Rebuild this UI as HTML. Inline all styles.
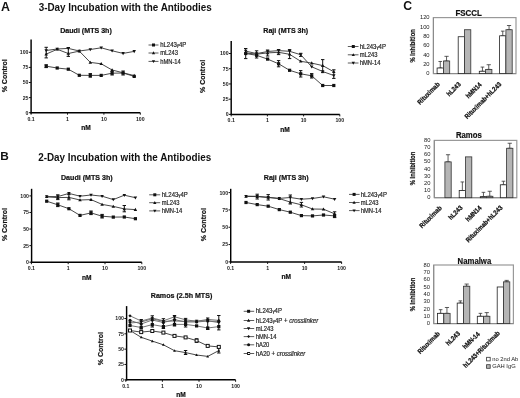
<!DOCTYPE html>
<html><head><meta charset="utf-8"><style>
html,body{margin:0;padding:0;background:#fff;}
body{width:520px;height:398px;overflow:hidden;font-family:"Liberation Sans",sans-serif;}
svg{display:block;filter:blur(0.3px);}
</style></head><body>
<svg width="520" height="398" viewBox="0 0 520 398" font-family='"Liberation Sans", sans-serif'>
<rect width="520" height="398" fill="#fff"/>
<text x="0.90" y="10.60" font-size="12.4" text-anchor="start" font-weight="bold" fill="#111">A</text>
<text x="38.70" y="11.30" font-size="10.2" text-anchor="start" font-weight="bold" fill="#111" textLength="173" lengthAdjust="spacingAndGlyphs">3-Day Incubation with the Antibodies</text>
<text x="0.20" y="159.70" font-size="11.8" text-anchor="start" font-weight="bold" fill="#111">B</text>
<text x="38.20" y="161.00" font-size="10.2" text-anchor="start" font-weight="bold" fill="#111" textLength="173" lengthAdjust="spacingAndGlyphs">2-Day Incubation with the Antibodies</text>
<text x="403.30" y="9.80" font-size="12.2" text-anchor="start" font-weight="bold" fill="#111">C</text>
<line x1="31.10" y1="39.40" x2="31.10" y2="113.40" stroke="#000" stroke-width="1.45"/>
<line x1="30.40" y1="112.70" x2="140.30" y2="112.70" stroke="#000" stroke-width="1.45"/>
<line x1="28.90" y1="112.70" x2="31.10" y2="112.70" stroke="#111" stroke-width="1.0"/>
<text x="28.50" y="114.60" font-size="5.2" text-anchor="end" font-weight="bold" fill="#222">0</text>
<line x1="28.90" y1="97.60" x2="31.10" y2="97.60" stroke="#111" stroke-width="1.0"/>
<text x="28.50" y="99.50" font-size="5.2" text-anchor="end" font-weight="bold" fill="#222">25</text>
<line x1="28.90" y1="82.50" x2="31.10" y2="82.50" stroke="#111" stroke-width="1.0"/>
<text x="28.50" y="84.40" font-size="5.2" text-anchor="end" font-weight="bold" fill="#222">50</text>
<line x1="28.90" y1="67.40" x2="31.10" y2="67.40" stroke="#111" stroke-width="1.0"/>
<text x="28.50" y="69.30" font-size="5.2" text-anchor="end" font-weight="bold" fill="#222">75</text>
<line x1="28.90" y1="52.30" x2="31.10" y2="52.30" stroke="#111" stroke-width="1.0"/>
<text x="28.50" y="54.20" font-size="5.2" text-anchor="end" font-weight="bold" fill="#222">100</text>
<line x1="31.10" y1="112.70" x2="31.10" y2="114.70" stroke="#111" stroke-width="1.0"/>
<text x="31.10" y="120.50" font-size="5.2" text-anchor="middle" font-weight="bold" fill="#222">0.1</text>
<line x1="67.50" y1="112.70" x2="67.50" y2="114.70" stroke="#111" stroke-width="1.0"/>
<text x="67.50" y="120.50" font-size="5.2" text-anchor="middle" font-weight="bold" fill="#222">1</text>
<line x1="103.90" y1="112.70" x2="103.90" y2="114.70" stroke="#111" stroke-width="1.0"/>
<text x="103.90" y="120.50" font-size="5.2" text-anchor="middle" font-weight="bold" fill="#222">10</text>
<line x1="140.30" y1="112.70" x2="140.30" y2="114.70" stroke="#111" stroke-width="1.0"/>
<text x="140.30" y="120.50" font-size="5.2" text-anchor="middle" font-weight="bold" fill="#222">100</text>
<text x="60.20" y="32.90" font-size="7.1" text-anchor="start" font-weight="bold" fill="#111" stroke="#111" stroke-width="0.2">Daudi (MTS 3h)</text>
<text x="86.00" y="130.00" font-size="6.6" text-anchor="middle" font-weight="bold" fill="#111" stroke="#111" stroke-width="0.2">nM</text>
<text x="6.60" y="75.80" font-size="7.0" text-anchor="middle" font-weight="bold" transform="rotate(-90 6.60 75.80)" fill="#111" stroke="#111" stroke-width="0.2">% Control</text>
<line x1="46.20" y1="47.30" x2="46.20" y2="57.90" stroke="#111" stroke-width="1.0"/>
<line x1="44.50" y1="47.30" x2="47.90" y2="47.30" stroke="#111" stroke-width="1.0"/>
<line x1="44.50" y1="57.90" x2="47.90" y2="57.90" stroke="#111" stroke-width="1.0"/>
<line x1="68.30" y1="47.60" x2="68.30" y2="56.40" stroke="#111" stroke-width="1.0"/>
<line x1="66.60" y1="47.60" x2="70.00" y2="47.60" stroke="#111" stroke-width="1.0"/>
<line x1="66.60" y1="56.40" x2="70.00" y2="56.40" stroke="#111" stroke-width="1.0"/>
<line x1="46.20" y1="64.80" x2="46.20" y2="67.60" stroke="#111" stroke-width="1.0"/>
<line x1="44.50" y1="64.80" x2="47.90" y2="64.80" stroke="#111" stroke-width="1.0"/>
<line x1="44.50" y1="67.60" x2="47.90" y2="67.60" stroke="#111" stroke-width="1.0"/>
<line x1="90.30" y1="73.60" x2="90.30" y2="77.20" stroke="#111" stroke-width="1.0"/>
<line x1="88.60" y1="73.60" x2="92.00" y2="73.60" stroke="#111" stroke-width="1.0"/>
<line x1="88.60" y1="77.20" x2="92.00" y2="77.20" stroke="#111" stroke-width="1.0"/>
<line x1="112.10" y1="71.40" x2="112.10" y2="75.00" stroke="#111" stroke-width="1.0"/>
<line x1="110.40" y1="71.40" x2="113.80" y2="71.40" stroke="#111" stroke-width="1.0"/>
<line x1="110.40" y1="75.00" x2="113.80" y2="75.00" stroke="#111" stroke-width="1.0"/>
<line x1="123.10" y1="71.00" x2="123.10" y2="75.00" stroke="#111" stroke-width="1.0"/>
<line x1="121.40" y1="71.00" x2="124.80" y2="71.00" stroke="#111" stroke-width="1.0"/>
<line x1="121.40" y1="75.00" x2="124.80" y2="75.00" stroke="#111" stroke-width="1.0"/>
<polyline points="46.20,50.50 57.20,49.00 68.30,48.40 79.30,51.00 90.30,49.50 101.20,47.80 112.10,50.80 123.10,53.40 134.20,51.40" fill="none" stroke="#333" stroke-width="0.9"/>
<polygon points="46.20,52.26 47.96,49.22 44.44,49.22" fill="#111"/>
<polygon points="57.20,50.76 58.96,47.72 55.44,47.72" fill="#111"/>
<polygon points="68.30,50.16 70.06,47.12 66.54,47.12" fill="#111"/>
<polygon points="79.30,52.76 81.06,49.72 77.54,49.72" fill="#111"/>
<polygon points="90.30,51.26 92.06,48.22 88.54,48.22" fill="#111"/>
<polygon points="101.20,49.56 102.96,46.52 99.44,46.52" fill="#111"/>
<polygon points="112.10,52.56 113.86,49.52 110.34,49.52" fill="#111"/>
<polygon points="123.10,55.16 124.86,52.12 121.34,52.12" fill="#111"/>
<polygon points="134.20,53.16 135.96,50.12 132.44,50.12" fill="#111"/>
<polyline points="46.20,54.10 57.20,49.30 68.30,53.50 79.30,51.10 90.30,62.40 101.20,63.80 112.10,70.00 123.10,72.80 134.20,75.60" fill="none" stroke="#333" stroke-width="0.9"/>
<polygon points="46.20,52.34 47.96,55.38 44.44,55.38" fill="#111"/>
<polygon points="57.20,47.54 58.96,50.58 55.44,50.58" fill="#111"/>
<polygon points="68.30,51.74 70.06,54.78 66.54,54.78" fill="#111"/>
<polygon points="79.30,49.34 81.06,52.38 77.54,52.38" fill="#111"/>
<polygon points="90.30,60.64 92.06,63.68 88.54,63.68" fill="#111"/>
<polygon points="101.20,62.04 102.96,65.08 99.44,65.08" fill="#111"/>
<polygon points="112.10,68.24 113.86,71.28 110.34,71.28" fill="#111"/>
<polygon points="123.10,71.04 124.86,74.08 121.34,74.08" fill="#111"/>
<polygon points="134.20,73.84 135.96,76.88 132.44,76.88" fill="#111"/>
<polyline points="46.20,66.20 57.20,68.00 68.30,69.20 79.30,75.30 90.30,75.40 101.20,75.40 112.10,73.20 123.10,73.00 134.20,76.40" fill="none" stroke="#333" stroke-width="0.9"/>
<rect x="44.60" y="64.60" width="3.20" height="3.20" fill="#111"/>
<rect x="55.60" y="66.40" width="3.20" height="3.20" fill="#111"/>
<rect x="66.70" y="67.60" width="3.20" height="3.20" fill="#111"/>
<rect x="77.70" y="73.70" width="3.20" height="3.20" fill="#111"/>
<rect x="88.70" y="73.80" width="3.20" height="3.20" fill="#111"/>
<rect x="99.60" y="73.80" width="3.20" height="3.20" fill="#111"/>
<rect x="110.50" y="71.60" width="3.20" height="3.20" fill="#111"/>
<rect x="121.50" y="71.40" width="3.20" height="3.20" fill="#111"/>
<rect x="132.60" y="74.80" width="3.20" height="3.20" fill="#111"/>
<line x1="148.50" y1="45.00" x2="158.50" y2="45.00" stroke="#333" stroke-width="0.8"/>
<rect x="152.00" y="43.50" width="3.00" height="3.00" fill="#111"/>
<text x="160.20" y="47.10" font-size="6.3" text-anchor="start" fill="#222" stroke="#222" stroke-width="0.18" textLength="26.12" lengthAdjust="spacingAndGlyphs">hL243<tspan font-size="4.6">γ</tspan>4P</text>
<line x1="148.50" y1="53.00" x2="158.50" y2="53.00" stroke="#333" stroke-width="0.8"/>
<polygon points="153.50,51.35 155.15,54.20 151.85,54.20" fill="#111"/>
<text x="160.20" y="55.10" font-size="6.3" text-anchor="start" fill="#222" stroke="#222" stroke-width="0.18" textLength="17.73" lengthAdjust="spacingAndGlyphs">mL243</text>
<line x1="148.50" y1="61.40" x2="158.50" y2="61.40" stroke="#333" stroke-width="0.8"/>
<polygon points="153.50,63.05 155.15,60.20 151.85,60.20" fill="#111"/>
<text x="160.20" y="63.50" font-size="6.3" text-anchor="start" fill="#222" stroke="#222" stroke-width="0.18" textLength="20.63" lengthAdjust="spacingAndGlyphs">hMN-14</text>
<line x1="231.20" y1="41.10" x2="231.20" y2="115.10" stroke="#000" stroke-width="1.45"/>
<line x1="230.50" y1="114.40" x2="339.80" y2="114.40" stroke="#000" stroke-width="1.45"/>
<line x1="229.00" y1="114.40" x2="231.20" y2="114.40" stroke="#111" stroke-width="1.0"/>
<text x="228.60" y="116.30" font-size="5.2" text-anchor="end" font-weight="bold" fill="#222">0</text>
<line x1="229.00" y1="99.18" x2="231.20" y2="99.18" stroke="#111" stroke-width="1.0"/>
<text x="228.60" y="101.08" font-size="5.2" text-anchor="end" font-weight="bold" fill="#222">25</text>
<line x1="229.00" y1="83.95" x2="231.20" y2="83.95" stroke="#111" stroke-width="1.0"/>
<text x="228.60" y="85.85" font-size="5.2" text-anchor="end" font-weight="bold" fill="#222">50</text>
<line x1="229.00" y1="68.73" x2="231.20" y2="68.73" stroke="#111" stroke-width="1.0"/>
<text x="228.60" y="70.63" font-size="5.2" text-anchor="end" font-weight="bold" fill="#222">75</text>
<line x1="229.00" y1="53.50" x2="231.20" y2="53.50" stroke="#111" stroke-width="1.0"/>
<text x="228.60" y="55.40" font-size="5.2" text-anchor="end" font-weight="bold" fill="#222">100</text>
<line x1="231.20" y1="114.40" x2="231.20" y2="116.40" stroke="#111" stroke-width="1.0"/>
<text x="231.20" y="122.20" font-size="5.2" text-anchor="middle" font-weight="bold" fill="#222">0.1</text>
<line x1="267.40" y1="114.40" x2="267.40" y2="116.40" stroke="#111" stroke-width="1.0"/>
<text x="267.40" y="122.20" font-size="5.2" text-anchor="middle" font-weight="bold" fill="#222">1</text>
<line x1="303.60" y1="114.40" x2="303.60" y2="116.40" stroke="#111" stroke-width="1.0"/>
<text x="303.60" y="122.20" font-size="5.2" text-anchor="middle" font-weight="bold" fill="#222">10</text>
<line x1="339.80" y1="114.40" x2="339.80" y2="116.40" stroke="#111" stroke-width="1.0"/>
<text x="339.80" y="122.20" font-size="5.2" text-anchor="middle" font-weight="bold" fill="#222">100</text>
<text x="263.30" y="32.80" font-size="7.1" text-anchor="start" font-weight="bold" fill="#111" stroke="#111" stroke-width="0.2">Raji (MTS 3h)</text>
<text x="285.00" y="131.50" font-size="6.6" text-anchor="middle" font-weight="bold" fill="#111" stroke="#111" stroke-width="0.2">nM</text>
<text x="205.50" y="76.40" font-size="7.0" text-anchor="middle" font-weight="bold" transform="rotate(-90 205.50 76.40)" fill="#111" stroke="#111" stroke-width="0.2">% Control</text>
<line x1="245.70" y1="48.50" x2="245.70" y2="58.60" stroke="#111" stroke-width="1.0"/>
<line x1="244.00" y1="48.50" x2="247.40" y2="48.50" stroke="#111" stroke-width="1.0"/>
<line x1="244.00" y1="58.60" x2="247.40" y2="58.60" stroke="#111" stroke-width="1.0"/>
<line x1="256.60" y1="50.80" x2="256.60" y2="58.00" stroke="#111" stroke-width="1.0"/>
<line x1="254.90" y1="50.80" x2="258.30" y2="50.80" stroke="#111" stroke-width="1.0"/>
<line x1="254.90" y1="58.00" x2="258.30" y2="58.00" stroke="#111" stroke-width="1.0"/>
<line x1="267.60" y1="50.00" x2="267.60" y2="56.00" stroke="#111" stroke-width="1.0"/>
<line x1="265.90" y1="50.00" x2="269.30" y2="50.00" stroke="#111" stroke-width="1.0"/>
<line x1="265.90" y1="56.00" x2="269.30" y2="56.00" stroke="#111" stroke-width="1.0"/>
<line x1="278.60" y1="49.60" x2="278.60" y2="54.60" stroke="#111" stroke-width="1.0"/>
<line x1="276.90" y1="49.60" x2="280.30" y2="49.60" stroke="#111" stroke-width="1.0"/>
<line x1="276.90" y1="54.60" x2="280.30" y2="54.60" stroke="#111" stroke-width="1.0"/>
<line x1="289.60" y1="49.60" x2="289.60" y2="58.60" stroke="#111" stroke-width="1.0"/>
<line x1="287.90" y1="49.60" x2="291.30" y2="49.60" stroke="#111" stroke-width="1.0"/>
<line x1="287.90" y1="58.60" x2="291.30" y2="58.60" stroke="#111" stroke-width="1.0"/>
<line x1="300.70" y1="53.30" x2="300.70" y2="56.40" stroke="#111" stroke-width="1.0"/>
<line x1="299.00" y1="53.30" x2="302.40" y2="53.30" stroke="#111" stroke-width="1.0"/>
<line x1="299.00" y1="56.40" x2="302.40" y2="56.40" stroke="#111" stroke-width="1.0"/>
<line x1="278.60" y1="60.60" x2="278.60" y2="66.80" stroke="#111" stroke-width="1.0"/>
<line x1="276.90" y1="60.60" x2="280.30" y2="60.60" stroke="#111" stroke-width="1.0"/>
<line x1="276.90" y1="66.80" x2="280.30" y2="66.80" stroke="#111" stroke-width="1.0"/>
<line x1="300.70" y1="70.60" x2="300.70" y2="77.00" stroke="#111" stroke-width="1.0"/>
<line x1="299.00" y1="70.60" x2="302.40" y2="70.60" stroke="#111" stroke-width="1.0"/>
<line x1="299.00" y1="77.00" x2="302.40" y2="77.00" stroke="#111" stroke-width="1.0"/>
<line x1="311.70" y1="73.60" x2="311.70" y2="78.00" stroke="#111" stroke-width="1.0"/>
<line x1="310.00" y1="73.60" x2="313.40" y2="73.60" stroke="#111" stroke-width="1.0"/>
<line x1="310.00" y1="78.00" x2="313.40" y2="78.00" stroke="#111" stroke-width="1.0"/>
<line x1="322.70" y1="59.60" x2="322.70" y2="72.60" stroke="#111" stroke-width="1.0"/>
<line x1="321.00" y1="59.60" x2="324.40" y2="59.60" stroke="#111" stroke-width="1.0"/>
<line x1="321.00" y1="72.60" x2="324.40" y2="72.60" stroke="#111" stroke-width="1.0"/>
<line x1="333.80" y1="69.80" x2="333.80" y2="78.40" stroke="#111" stroke-width="1.0"/>
<line x1="332.10" y1="69.80" x2="335.50" y2="69.80" stroke="#111" stroke-width="1.0"/>
<line x1="332.10" y1="78.40" x2="335.50" y2="78.40" stroke="#111" stroke-width="1.0"/>
<polyline points="245.70,51.10 256.60,53.60 267.60,51.50 278.60,50.60 289.60,51.30 300.70,54.70 311.70,66.80 322.70,71.50 333.80,75.50" fill="none" stroke="#333" stroke-width="0.9"/>
<polygon points="245.70,52.86 247.46,49.82 243.94,49.82" fill="#111"/>
<polygon points="256.60,55.36 258.36,52.32 254.84,52.32" fill="#111"/>
<polygon points="267.60,53.26 269.36,50.22 265.84,50.22" fill="#111"/>
<polygon points="278.60,52.36 280.36,49.32 276.84,49.32" fill="#111"/>
<polygon points="289.60,53.06 291.36,50.02 287.84,50.02" fill="#111"/>
<polygon points="300.70,56.46 302.46,53.42 298.94,53.42" fill="#111"/>
<polygon points="311.70,68.56 313.46,65.52 309.94,65.52" fill="#111"/>
<polygon points="322.70,73.26 324.46,70.22 320.94,70.22" fill="#111"/>
<polygon points="333.80,77.26 335.56,74.22 332.04,74.22" fill="#111"/>
<polyline points="245.70,52.90 256.60,54.20 267.60,52.90 278.60,52.30 289.60,54.30 300.70,61.30 311.70,63.10 322.70,65.60 333.80,71.80" fill="none" stroke="#333" stroke-width="0.9"/>
<polygon points="245.70,51.14 247.46,54.18 243.94,54.18" fill="#111"/>
<polygon points="256.60,52.44 258.36,55.48 254.84,55.48" fill="#111"/>
<polygon points="267.60,51.14 269.36,54.18 265.84,54.18" fill="#111"/>
<polygon points="278.60,50.54 280.36,53.58 276.84,53.58" fill="#111"/>
<polygon points="289.60,52.54 291.36,55.58 287.84,55.58" fill="#111"/>
<polygon points="300.70,59.54 302.46,62.58 298.94,62.58" fill="#111"/>
<polygon points="311.70,61.34 313.46,64.38 309.94,64.38" fill="#111"/>
<polygon points="322.70,63.84 324.46,66.88 320.94,66.88" fill="#111"/>
<polygon points="333.80,70.04 335.56,73.08 332.04,73.08" fill="#111"/>
<polyline points="245.70,53.50 256.60,55.30 267.60,59.10 278.60,63.80 289.60,70.30 300.70,73.80 311.70,75.80 322.70,85.50 333.80,85.50" fill="none" stroke="#333" stroke-width="0.9"/>
<rect x="244.10" y="51.90" width="3.20" height="3.20" fill="#111"/>
<rect x="255.00" y="53.70" width="3.20" height="3.20" fill="#111"/>
<rect x="266.00" y="57.50" width="3.20" height="3.20" fill="#111"/>
<rect x="277.00" y="62.20" width="3.20" height="3.20" fill="#111"/>
<rect x="288.00" y="68.70" width="3.20" height="3.20" fill="#111"/>
<rect x="299.10" y="72.20" width="3.20" height="3.20" fill="#111"/>
<rect x="310.10" y="74.20" width="3.20" height="3.20" fill="#111"/>
<rect x="321.10" y="83.90" width="3.20" height="3.20" fill="#111"/>
<rect x="332.20" y="83.90" width="3.20" height="3.20" fill="#111"/>
<line x1="347.80" y1="46.50" x2="358.50" y2="46.50" stroke="#333" stroke-width="0.8"/>
<rect x="351.80" y="45.00" width="3.00" height="3.00" fill="#111"/>
<text x="359.80" y="48.60" font-size="6.3" text-anchor="start" fill="#222" stroke="#222" stroke-width="0.18" textLength="26.12" lengthAdjust="spacingAndGlyphs">hL243<tspan font-size="4.6">γ</tspan>4P</text>
<line x1="347.80" y1="54.80" x2="358.50" y2="54.80" stroke="#333" stroke-width="0.8"/>
<polygon points="353.30,53.15 354.95,56.00 351.65,56.00" fill="#111"/>
<text x="359.80" y="56.90" font-size="6.3" text-anchor="start" fill="#222" stroke="#222" stroke-width="0.18" textLength="17.73" lengthAdjust="spacingAndGlyphs">mL243</text>
<line x1="347.80" y1="63.00" x2="358.50" y2="63.00" stroke="#333" stroke-width="0.8"/>
<polygon points="353.30,64.65 354.95,61.80 351.65,61.80" fill="#111"/>
<text x="359.80" y="65.10" font-size="6.3" text-anchor="start" fill="#222" stroke="#222" stroke-width="0.18" textLength="20.63" lengthAdjust="spacingAndGlyphs">hMN-14</text>
<line x1="31.60" y1="188.80" x2="31.60" y2="262.90" stroke="#000" stroke-width="1.45"/>
<line x1="30.90" y1="262.20" x2="141.80" y2="262.20" stroke="#000" stroke-width="1.45"/>
<line x1="29.40" y1="262.20" x2="31.60" y2="262.20" stroke="#111" stroke-width="1.0"/>
<text x="29.00" y="264.10" font-size="5.2" text-anchor="end" font-weight="bold" fill="#222">0</text>
<line x1="29.40" y1="245.62" x2="31.60" y2="245.62" stroke="#111" stroke-width="1.0"/>
<text x="29.00" y="247.53" font-size="5.2" text-anchor="end" font-weight="bold" fill="#222">25</text>
<line x1="29.40" y1="229.05" x2="31.60" y2="229.05" stroke="#111" stroke-width="1.0"/>
<text x="29.00" y="230.95" font-size="5.2" text-anchor="end" font-weight="bold" fill="#222">50</text>
<line x1="29.40" y1="212.47" x2="31.60" y2="212.47" stroke="#111" stroke-width="1.0"/>
<text x="29.00" y="214.38" font-size="5.2" text-anchor="end" font-weight="bold" fill="#222">75</text>
<line x1="29.40" y1="195.90" x2="31.60" y2="195.90" stroke="#111" stroke-width="1.0"/>
<text x="29.00" y="197.80" font-size="5.2" text-anchor="end" font-weight="bold" fill="#222">100</text>
<line x1="31.40" y1="262.20" x2="31.40" y2="264.20" stroke="#111" stroke-width="1.0"/>
<text x="31.40" y="270.00" font-size="5.2" text-anchor="middle" font-weight="bold" fill="#222">0.1</text>
<line x1="68.20" y1="262.20" x2="68.20" y2="264.20" stroke="#111" stroke-width="1.0"/>
<text x="68.20" y="270.00" font-size="5.2" text-anchor="middle" font-weight="bold" fill="#222">1</text>
<line x1="105.00" y1="262.20" x2="105.00" y2="264.20" stroke="#111" stroke-width="1.0"/>
<text x="105.00" y="270.00" font-size="5.2" text-anchor="middle" font-weight="bold" fill="#222">10</text>
<line x1="141.80" y1="262.20" x2="141.80" y2="264.20" stroke="#111" stroke-width="1.0"/>
<text x="141.80" y="270.00" font-size="5.2" text-anchor="middle" font-weight="bold" fill="#222">100</text>
<text x="61.00" y="180.30" font-size="7.1" text-anchor="start" font-weight="bold" fill="#111" stroke="#111" stroke-width="0.2">Daudi (MTS 3h)</text>
<text x="86.80" y="279.80" font-size="6.6" text-anchor="middle" font-weight="bold" fill="#111" stroke="#111" stroke-width="0.2">nM</text>
<text x="6.60" y="224.60" font-size="7.0" text-anchor="middle" font-weight="bold" transform="rotate(-90 6.60 224.60)" fill="#111" stroke="#111" stroke-width="0.2">% Control</text>
<line x1="57.80" y1="194.80" x2="57.80" y2="199.60" stroke="#111" stroke-width="1.0"/>
<line x1="56.10" y1="194.80" x2="59.50" y2="194.80" stroke="#111" stroke-width="1.0"/>
<line x1="56.10" y1="199.60" x2="59.50" y2="199.60" stroke="#111" stroke-width="1.0"/>
<line x1="68.90" y1="194.60" x2="68.90" y2="199.80" stroke="#111" stroke-width="1.0"/>
<line x1="67.20" y1="194.60" x2="70.60" y2="194.60" stroke="#111" stroke-width="1.0"/>
<line x1="67.20" y1="199.80" x2="70.60" y2="199.80" stroke="#111" stroke-width="1.0"/>
<line x1="124.30" y1="205.50" x2="124.30" y2="211.80" stroke="#111" stroke-width="1.0"/>
<line x1="122.60" y1="205.50" x2="126.00" y2="205.50" stroke="#111" stroke-width="1.0"/>
<line x1="122.60" y1="211.80" x2="126.00" y2="211.80" stroke="#111" stroke-width="1.0"/>
<line x1="57.80" y1="203.00" x2="57.80" y2="206.60" stroke="#111" stroke-width="1.0"/>
<line x1="56.10" y1="203.00" x2="59.50" y2="203.00" stroke="#111" stroke-width="1.0"/>
<line x1="56.10" y1="206.60" x2="59.50" y2="206.60" stroke="#111" stroke-width="1.0"/>
<line x1="91.00" y1="211.00" x2="91.00" y2="214.60" stroke="#111" stroke-width="1.0"/>
<line x1="89.30" y1="211.00" x2="92.70" y2="211.00" stroke="#111" stroke-width="1.0"/>
<line x1="89.30" y1="214.60" x2="92.70" y2="214.60" stroke="#111" stroke-width="1.0"/>
<line x1="102.10" y1="214.40" x2="102.10" y2="218.00" stroke="#111" stroke-width="1.0"/>
<line x1="100.40" y1="214.40" x2="103.80" y2="214.40" stroke="#111" stroke-width="1.0"/>
<line x1="100.40" y1="218.00" x2="103.80" y2="218.00" stroke="#111" stroke-width="1.0"/>
<polyline points="46.70,196.60 57.80,196.60 68.90,193.40 80.00,196.20 91.00,195.00 102.10,196.20 113.30,199.60 124.30,195.20 135.40,197.70" fill="none" stroke="#333" stroke-width="0.9"/>
<polygon points="46.70,198.36 48.46,195.32 44.94,195.32" fill="#111"/>
<polygon points="57.80,198.36 59.56,195.32 56.04,195.32" fill="#111"/>
<polygon points="68.90,195.16 70.66,192.12 67.14,192.12" fill="#111"/>
<polygon points="80.00,197.96 81.76,194.92 78.24,194.92" fill="#111"/>
<polygon points="91.00,196.76 92.76,193.72 89.24,193.72" fill="#111"/>
<polygon points="102.10,197.96 103.86,194.92 100.34,194.92" fill="#111"/>
<polygon points="113.30,201.36 115.06,198.32 111.54,198.32" fill="#111"/>
<polygon points="124.30,196.96 126.06,193.92 122.54,193.92" fill="#111"/>
<polygon points="135.40,199.46 137.16,196.42 133.64,196.42" fill="#111"/>
<polyline points="46.70,196.80 57.80,197.60 68.90,197.40 80.00,200.00 91.00,199.60 102.10,204.40 113.30,206.40 124.30,208.90 135.40,209.60" fill="none" stroke="#333" stroke-width="0.9"/>
<polygon points="46.70,195.04 48.46,198.08 44.94,198.08" fill="#111"/>
<polygon points="57.80,195.84 59.56,198.88 56.04,198.88" fill="#111"/>
<polygon points="68.90,195.64 70.66,198.68 67.14,198.68" fill="#111"/>
<polygon points="80.00,198.24 81.76,201.28 78.24,201.28" fill="#111"/>
<polygon points="91.00,197.84 92.76,200.88 89.24,200.88" fill="#111"/>
<polygon points="102.10,202.64 103.86,205.68 100.34,205.68" fill="#111"/>
<polygon points="113.30,204.64 115.06,207.68 111.54,207.68" fill="#111"/>
<polygon points="124.30,207.14 126.06,210.18 122.54,210.18" fill="#111"/>
<polygon points="135.40,207.84 137.16,210.88 133.64,210.88" fill="#111"/>
<polyline points="46.70,201.20 57.80,204.80 68.90,208.70 80.00,215.40 91.00,212.90 102.10,216.20 113.30,217.10 124.30,217.00 135.40,218.70" fill="none" stroke="#333" stroke-width="0.9"/>
<rect x="45.10" y="199.60" width="3.20" height="3.20" fill="#111"/>
<rect x="56.20" y="203.20" width="3.20" height="3.20" fill="#111"/>
<rect x="67.30" y="207.10" width="3.20" height="3.20" fill="#111"/>
<rect x="78.40" y="213.80" width="3.20" height="3.20" fill="#111"/>
<rect x="89.40" y="211.30" width="3.20" height="3.20" fill="#111"/>
<rect x="100.50" y="214.60" width="3.20" height="3.20" fill="#111"/>
<rect x="111.70" y="215.50" width="3.20" height="3.20" fill="#111"/>
<rect x="122.70" y="215.40" width="3.20" height="3.20" fill="#111"/>
<rect x="133.80" y="217.10" width="3.20" height="3.20" fill="#111"/>
<line x1="149.20" y1="194.80" x2="160.20" y2="194.80" stroke="#333" stroke-width="0.8"/>
<rect x="153.30" y="193.30" width="3.00" height="3.00" fill="#111"/>
<text x="161.70" y="196.90" font-size="6.3" text-anchor="start" fill="#222" stroke="#222" stroke-width="0.18" textLength="26.12" lengthAdjust="spacingAndGlyphs">hL243<tspan font-size="4.6">γ</tspan>4P</text>
<line x1="149.20" y1="202.70" x2="160.20" y2="202.70" stroke="#333" stroke-width="0.8"/>
<polygon points="154.80,201.05 156.45,203.90 153.15,203.90" fill="#111"/>
<text x="161.70" y="204.80" font-size="6.3" text-anchor="start" fill="#222" stroke="#222" stroke-width="0.18" textLength="17.73" lengthAdjust="spacingAndGlyphs">mL243</text>
<line x1="149.20" y1="210.90" x2="160.20" y2="210.90" stroke="#333" stroke-width="0.8"/>
<polygon points="154.80,212.55 156.45,209.70 153.15,209.70" fill="#111"/>
<text x="161.70" y="213.00" font-size="6.3" text-anchor="start" fill="#222" stroke="#222" stroke-width="0.18" textLength="20.63" lengthAdjust="spacingAndGlyphs">hMN-14</text>
<line x1="230.70" y1="188.80" x2="230.70" y2="262.60" stroke="#000" stroke-width="1.45"/>
<line x1="230.00" y1="261.90" x2="341.60" y2="261.90" stroke="#000" stroke-width="1.45"/>
<line x1="228.50" y1="261.90" x2="230.70" y2="261.90" stroke="#111" stroke-width="1.0"/>
<text x="228.10" y="263.80" font-size="5.2" text-anchor="end" font-weight="bold" fill="#222">0</text>
<line x1="228.50" y1="244.57" x2="230.70" y2="244.57" stroke="#111" stroke-width="1.0"/>
<text x="228.10" y="246.47" font-size="5.2" text-anchor="end" font-weight="bold" fill="#222">25</text>
<line x1="228.50" y1="227.25" x2="230.70" y2="227.25" stroke="#111" stroke-width="1.0"/>
<text x="228.10" y="229.15" font-size="5.2" text-anchor="end" font-weight="bold" fill="#222">50</text>
<line x1="228.50" y1="209.92" x2="230.70" y2="209.92" stroke="#111" stroke-width="1.0"/>
<text x="228.10" y="211.82" font-size="5.2" text-anchor="end" font-weight="bold" fill="#222">75</text>
<line x1="228.50" y1="192.60" x2="230.70" y2="192.60" stroke="#111" stroke-width="1.0"/>
<text x="228.10" y="194.50" font-size="5.2" text-anchor="end" font-weight="bold" fill="#222">100</text>
<line x1="230.60" y1="261.90" x2="230.60" y2="263.90" stroke="#111" stroke-width="1.0"/>
<text x="230.60" y="269.70" font-size="5.2" text-anchor="middle" font-weight="bold" fill="#222">0.1</text>
<line x1="267.60" y1="261.90" x2="267.60" y2="263.90" stroke="#111" stroke-width="1.0"/>
<text x="267.60" y="269.70" font-size="5.2" text-anchor="middle" font-weight="bold" fill="#222">1</text>
<line x1="304.60" y1="261.90" x2="304.60" y2="263.90" stroke="#111" stroke-width="1.0"/>
<text x="304.60" y="269.70" font-size="5.2" text-anchor="middle" font-weight="bold" fill="#222">10</text>
<line x1="341.60" y1="261.90" x2="341.60" y2="263.90" stroke="#111" stroke-width="1.0"/>
<text x="341.60" y="269.70" font-size="5.2" text-anchor="middle" font-weight="bold" fill="#222">100</text>
<text x="263.80" y="180.20" font-size="7.1" text-anchor="start" font-weight="bold" fill="#111" stroke="#111" stroke-width="0.2">Raji (MTS 3h)</text>
<text x="286.30" y="279.40" font-size="6.6" text-anchor="middle" font-weight="bold" fill="#111" stroke="#111" stroke-width="0.2">nM</text>
<text x="205.70" y="224.60" font-size="7.0" text-anchor="middle" font-weight="bold" transform="rotate(-90 205.70 224.60)" fill="#111" stroke="#111" stroke-width="0.2">% Control</text>
<line x1="257.20" y1="194.20" x2="257.20" y2="199.00" stroke="#111" stroke-width="1.0"/>
<line x1="255.50" y1="194.20" x2="258.90" y2="194.20" stroke="#111" stroke-width="1.0"/>
<line x1="255.50" y1="199.00" x2="258.90" y2="199.00" stroke="#111" stroke-width="1.0"/>
<line x1="268.20" y1="194.60" x2="268.20" y2="200.00" stroke="#111" stroke-width="1.0"/>
<line x1="266.50" y1="194.60" x2="269.90" y2="194.60" stroke="#111" stroke-width="1.0"/>
<line x1="266.50" y1="200.00" x2="269.90" y2="200.00" stroke="#111" stroke-width="1.0"/>
<line x1="290.30" y1="195.00" x2="290.30" y2="204.00" stroke="#111" stroke-width="1.0"/>
<line x1="288.60" y1="195.00" x2="292.00" y2="195.00" stroke="#111" stroke-width="1.0"/>
<line x1="288.60" y1="204.00" x2="292.00" y2="204.00" stroke="#111" stroke-width="1.0"/>
<line x1="301.40" y1="202.40" x2="301.40" y2="207.00" stroke="#111" stroke-width="1.0"/>
<line x1="299.70" y1="202.40" x2="303.10" y2="202.40" stroke="#111" stroke-width="1.0"/>
<line x1="299.70" y1="207.00" x2="303.10" y2="207.00" stroke="#111" stroke-width="1.0"/>
<line x1="334.60" y1="211.80" x2="334.60" y2="217.60" stroke="#111" stroke-width="1.0"/>
<line x1="332.90" y1="211.80" x2="336.30" y2="211.80" stroke="#111" stroke-width="1.0"/>
<line x1="332.90" y1="217.60" x2="336.30" y2="217.60" stroke="#111" stroke-width="1.0"/>
<polyline points="246.00,196.20 257.20,196.30 268.20,197.30 279.30,198.40 290.30,197.50 301.40,199.20 312.50,198.50 323.50,196.80 334.60,199.20" fill="none" stroke="#333" stroke-width="0.9"/>
<polygon points="246.00,197.96 247.76,194.92 244.24,194.92" fill="#111"/>
<polygon points="257.20,198.06 258.96,195.02 255.44,195.02" fill="#111"/>
<polygon points="268.20,199.06 269.96,196.02 266.44,196.02" fill="#111"/>
<polygon points="279.30,200.16 281.06,197.12 277.54,197.12" fill="#111"/>
<polygon points="290.30,199.26 292.06,196.22 288.54,196.22" fill="#111"/>
<polygon points="301.40,200.96 303.16,197.92 299.64,197.92" fill="#111"/>
<polygon points="312.50,200.26 314.26,197.22 310.74,197.22" fill="#111"/>
<polygon points="323.50,198.56 325.26,195.52 321.74,195.52" fill="#111"/>
<polygon points="334.60,200.96 336.36,197.92 332.84,197.92" fill="#111"/>
<polyline points="246.00,196.40 257.20,196.60 268.20,197.50 279.30,198.60 290.30,202.10 301.40,204.80 312.50,209.00 323.50,209.20 334.60,213.80" fill="none" stroke="#333" stroke-width="0.9"/>
<polygon points="246.00,194.64 247.76,197.68 244.24,197.68" fill="#111"/>
<polygon points="257.20,194.84 258.96,197.88 255.44,197.88" fill="#111"/>
<polygon points="268.20,195.74 269.96,198.78 266.44,198.78" fill="#111"/>
<polygon points="279.30,196.84 281.06,199.88 277.54,199.88" fill="#111"/>
<polygon points="290.30,200.34 292.06,203.38 288.54,203.38" fill="#111"/>
<polygon points="301.40,203.04 303.16,206.08 299.64,206.08" fill="#111"/>
<polygon points="312.50,207.24 314.26,210.28 310.74,210.28" fill="#111"/>
<polygon points="323.50,207.44 325.26,210.48 321.74,210.48" fill="#111"/>
<polygon points="334.60,212.04 336.36,215.08 332.84,215.08" fill="#111"/>
<polyline points="246.00,202.50 257.20,204.60 268.20,206.20 279.30,209.60 290.30,212.20 301.40,215.60 312.50,215.90 323.50,215.00 334.60,215.90" fill="none" stroke="#333" stroke-width="0.9"/>
<rect x="244.40" y="200.90" width="3.20" height="3.20" fill="#111"/>
<rect x="255.60" y="203.00" width="3.20" height="3.20" fill="#111"/>
<rect x="266.60" y="204.60" width="3.20" height="3.20" fill="#111"/>
<rect x="277.70" y="208.00" width="3.20" height="3.20" fill="#111"/>
<rect x="288.70" y="210.60" width="3.20" height="3.20" fill="#111"/>
<rect x="299.80" y="214.00" width="3.20" height="3.20" fill="#111"/>
<rect x="310.90" y="214.30" width="3.20" height="3.20" fill="#111"/>
<rect x="321.90" y="213.40" width="3.20" height="3.20" fill="#111"/>
<rect x="333.00" y="214.30" width="3.20" height="3.20" fill="#111"/>
<line x1="349.00" y1="194.40" x2="359.60" y2="194.40" stroke="#333" stroke-width="0.8"/>
<rect x="352.60" y="192.90" width="3.00" height="3.00" fill="#111"/>
<text x="360.80" y="196.50" font-size="6.3" text-anchor="start" fill="#222" stroke="#222" stroke-width="0.18" textLength="26.12" lengthAdjust="spacingAndGlyphs">hL243<tspan font-size="4.6">γ</tspan>4P</text>
<line x1="349.00" y1="202.50" x2="359.60" y2="202.50" stroke="#333" stroke-width="0.8"/>
<polygon points="354.10,200.85 355.75,203.70 352.45,203.70" fill="#111"/>
<text x="360.80" y="204.60" font-size="6.3" text-anchor="start" fill="#222" stroke="#222" stroke-width="0.18" textLength="17.73" lengthAdjust="spacingAndGlyphs">mL243</text>
<line x1="349.00" y1="210.60" x2="359.60" y2="210.60" stroke="#333" stroke-width="0.8"/>
<polygon points="354.10,212.25 355.75,209.40 352.45,209.40" fill="#111"/>
<text x="360.80" y="212.70" font-size="6.3" text-anchor="start" fill="#222" stroke="#222" stroke-width="0.18" textLength="20.63" lengthAdjust="spacingAndGlyphs">hMN-14</text>
<line x1="126.60" y1="306.10" x2="126.60" y2="380.50" stroke="#000" stroke-width="1.45"/>
<line x1="125.90" y1="379.80" x2="235.60" y2="379.80" stroke="#000" stroke-width="1.45"/>
<line x1="124.40" y1="379.80" x2="126.60" y2="379.80" stroke="#111" stroke-width="1.0"/>
<text x="124.00" y="381.70" font-size="5.2" text-anchor="end" font-weight="bold" fill="#222">0</text>
<line x1="124.40" y1="364.48" x2="126.60" y2="364.48" stroke="#111" stroke-width="1.0"/>
<text x="124.00" y="366.38" font-size="5.2" text-anchor="end" font-weight="bold" fill="#222">25</text>
<line x1="124.40" y1="349.15" x2="126.60" y2="349.15" stroke="#111" stroke-width="1.0"/>
<text x="124.00" y="351.05" font-size="5.2" text-anchor="end" font-weight="bold" fill="#222">50</text>
<line x1="124.40" y1="333.82" x2="126.60" y2="333.82" stroke="#111" stroke-width="1.0"/>
<text x="124.00" y="335.72" font-size="5.2" text-anchor="end" font-weight="bold" fill="#222">75</text>
<line x1="124.40" y1="318.50" x2="126.60" y2="318.50" stroke="#111" stroke-width="1.0"/>
<text x="124.00" y="320.40" font-size="5.2" text-anchor="end" font-weight="bold" fill="#222">100</text>
<line x1="125.80" y1="379.80" x2="125.80" y2="381.80" stroke="#111" stroke-width="1.0"/>
<text x="125.80" y="387.60" font-size="5.2" text-anchor="middle" font-weight="bold" fill="#222">0.1</text>
<line x1="162.40" y1="379.80" x2="162.40" y2="381.80" stroke="#111" stroke-width="1.0"/>
<text x="162.40" y="387.60" font-size="5.2" text-anchor="middle" font-weight="bold" fill="#222">1</text>
<line x1="199.00" y1="379.80" x2="199.00" y2="381.80" stroke="#111" stroke-width="1.0"/>
<text x="199.00" y="387.60" font-size="5.2" text-anchor="middle" font-weight="bold" fill="#222">10</text>
<line x1="235.60" y1="379.80" x2="235.60" y2="381.80" stroke="#111" stroke-width="1.0"/>
<text x="235.60" y="387.60" font-size="5.2" text-anchor="middle" font-weight="bold" fill="#222">100</text>
<text x="150.80" y="298.20" font-size="7.1" text-anchor="start" font-weight="bold" fill="#111" stroke="#111" stroke-width="0.2">Ramos (2.5h MTS)</text>
<text x="181.00" y="396.80" font-size="6.6" text-anchor="middle" font-weight="bold" fill="#111" stroke="#111" stroke-width="0.2">nM</text>
<text x="103.20" y="348.60" font-size="7.0" text-anchor="middle" font-weight="bold" transform="rotate(-90 103.20 348.60)" fill="#111" stroke="#111" stroke-width="0.2">% Control</text>
<line x1="141.20" y1="319.50" x2="141.20" y2="329.00" stroke="#111" stroke-width="1.0"/>
<line x1="139.50" y1="319.50" x2="142.90" y2="319.50" stroke="#111" stroke-width="1.0"/>
<line x1="139.50" y1="329.00" x2="142.90" y2="329.00" stroke="#111" stroke-width="1.0"/>
<line x1="152.30" y1="315.80" x2="152.30" y2="327.00" stroke="#111" stroke-width="1.0"/>
<line x1="150.60" y1="315.80" x2="154.00" y2="315.80" stroke="#111" stroke-width="1.0"/>
<line x1="150.60" y1="327.00" x2="154.00" y2="327.00" stroke="#111" stroke-width="1.0"/>
<line x1="163.40" y1="318.70" x2="163.40" y2="328.50" stroke="#111" stroke-width="1.0"/>
<line x1="161.70" y1="318.70" x2="165.10" y2="318.70" stroke="#111" stroke-width="1.0"/>
<line x1="161.70" y1="328.50" x2="165.10" y2="328.50" stroke="#111" stroke-width="1.0"/>
<line x1="174.50" y1="315.50" x2="174.50" y2="326.00" stroke="#111" stroke-width="1.0"/>
<line x1="172.80" y1="315.50" x2="176.20" y2="315.50" stroke="#111" stroke-width="1.0"/>
<line x1="172.80" y1="326.00" x2="176.20" y2="326.00" stroke="#111" stroke-width="1.0"/>
<line x1="185.60" y1="318.40" x2="185.60" y2="327.00" stroke="#111" stroke-width="1.0"/>
<line x1="183.90" y1="318.40" x2="187.30" y2="318.40" stroke="#111" stroke-width="1.0"/>
<line x1="183.90" y1="327.00" x2="187.30" y2="327.00" stroke="#111" stroke-width="1.0"/>
<line x1="207.70" y1="318.00" x2="207.70" y2="329.50" stroke="#111" stroke-width="1.0"/>
<line x1="206.00" y1="318.00" x2="209.40" y2="318.00" stroke="#111" stroke-width="1.0"/>
<line x1="206.00" y1="329.50" x2="209.40" y2="329.50" stroke="#111" stroke-width="1.0"/>
<line x1="218.80" y1="315.50" x2="218.80" y2="329.90" stroke="#111" stroke-width="1.0"/>
<line x1="217.10" y1="315.50" x2="220.50" y2="315.50" stroke="#111" stroke-width="1.0"/>
<line x1="217.10" y1="329.90" x2="220.50" y2="329.90" stroke="#111" stroke-width="1.0"/>
<line x1="218.80" y1="348.00" x2="218.80" y2="353.00" stroke="#111" stroke-width="1.0"/>
<line x1="217.10" y1="348.00" x2="220.50" y2="348.00" stroke="#111" stroke-width="1.0"/>
<line x1="217.10" y1="353.00" x2="220.50" y2="353.00" stroke="#111" stroke-width="1.0"/>
<line x1="196.60" y1="338.80" x2="196.60" y2="342.40" stroke="#111" stroke-width="1.0"/>
<line x1="194.90" y1="338.80" x2="198.30" y2="338.80" stroke="#111" stroke-width="1.0"/>
<line x1="194.90" y1="342.40" x2="198.30" y2="342.40" stroke="#111" stroke-width="1.0"/>
<line x1="185.60" y1="350.50" x2="185.60" y2="354.50" stroke="#111" stroke-width="1.0"/>
<line x1="183.90" y1="350.50" x2="187.30" y2="350.50" stroke="#111" stroke-width="1.0"/>
<line x1="183.90" y1="354.50" x2="187.30" y2="354.50" stroke="#111" stroke-width="1.0"/>
<polyline points="130.00,323.00 141.20,322.00 152.30,318.80 163.40,321.40 174.50,321.00 185.60,321.40 196.60,321.00 207.70,320.80 218.80,322.60" fill="none" stroke="#666" stroke-width="0.9"/>
<polygon points="130.00,324.76 131.76,321.72 128.24,321.72" fill="#111"/>
<polygon points="141.20,323.76 142.96,320.72 139.44,320.72" fill="#111"/>
<polygon points="152.30,320.56 154.06,317.52 150.54,317.52" fill="#111"/>
<polygon points="163.40,323.16 165.16,320.12 161.64,320.12" fill="#111"/>
<polygon points="174.50,322.76 176.26,319.72 172.74,319.72" fill="#111"/>
<polygon points="185.60,323.16 187.36,320.12 183.84,320.12" fill="#111"/>
<polygon points="196.60,322.76 198.36,319.72 194.84,319.72" fill="#111"/>
<polygon points="207.70,322.56 209.46,319.52 205.94,319.52" fill="#111"/>
<polygon points="218.80,324.36 220.56,321.32 217.04,321.32" fill="#111"/>
<polyline points="130.00,315.80 141.20,321.00 152.30,318.00 163.40,320.80 174.50,316.80 185.60,319.80 196.60,321.30 207.70,319.40 218.80,320.40" fill="none" stroke="#666" stroke-width="0.9"/>
<polygon points="130.00,314.20 131.60,315.80 130.00,317.40 128.40,315.80" fill="#111"/>
<polygon points="141.20,319.40 142.80,321.00 141.20,322.60 139.60,321.00" fill="#111"/>
<polygon points="152.30,316.40 153.90,318.00 152.30,319.60 150.70,318.00" fill="#111"/>
<polygon points="163.40,319.20 165.00,320.80 163.40,322.40 161.80,320.80" fill="#111"/>
<polygon points="174.50,315.20 176.10,316.80 174.50,318.40 172.90,316.80" fill="#111"/>
<polygon points="185.60,318.20 187.20,319.80 185.60,321.40 184.00,319.80" fill="#111"/>
<polygon points="196.60,319.70 198.20,321.30 196.60,322.90 195.00,321.30" fill="#111"/>
<polygon points="207.70,317.80 209.30,319.40 207.70,321.00 206.10,319.40" fill="#111"/>
<polygon points="218.80,318.80 220.40,320.40 218.80,322.00 217.20,320.40" fill="#111"/>
<polyline points="130.00,320.40 141.20,324.00 152.30,320.00 163.40,322.50 174.50,319.60 185.60,322.00 196.60,322.00 207.70,321.00 218.80,321.50" fill="none" stroke="#666" stroke-width="0.9"/>
<circle cx="130.00" cy="320.40" r="1.60" fill="#111"/>
<circle cx="141.20" cy="324.00" r="1.60" fill="#111"/>
<circle cx="152.30" cy="320.00" r="1.60" fill="#111"/>
<circle cx="163.40" cy="322.50" r="1.60" fill="#111"/>
<circle cx="174.50" cy="319.60" r="1.60" fill="#111"/>
<circle cx="185.60" cy="322.00" r="1.60" fill="#111"/>
<circle cx="196.60" cy="322.00" r="1.60" fill="#111"/>
<circle cx="207.70" cy="321.00" r="1.60" fill="#111"/>
<circle cx="218.80" cy="321.50" r="1.60" fill="#111"/>
<polyline points="130.00,325.50 141.20,327.50 152.30,324.60 163.40,326.60 174.50,324.40 185.60,324.40 196.60,325.90 207.70,328.00 218.80,326.60" fill="none" stroke="#666" stroke-width="0.9"/>
<rect x="128.40" y="323.90" width="3.20" height="3.20" fill="#111"/>
<rect x="139.60" y="325.90" width="3.20" height="3.20" fill="#111"/>
<rect x="150.70" y="323.00" width="3.20" height="3.20" fill="#111"/>
<rect x="161.80" y="325.00" width="3.20" height="3.20" fill="#111"/>
<rect x="172.90" y="322.80" width="3.20" height="3.20" fill="#111"/>
<rect x="184.00" y="322.80" width="3.20" height="3.20" fill="#111"/>
<rect x="195.00" y="324.30" width="3.20" height="3.20" fill="#111"/>
<rect x="206.10" y="326.40" width="3.20" height="3.20" fill="#111"/>
<rect x="217.20" y="325.00" width="3.20" height="3.20" fill="#111"/>
<polyline points="130.00,330.50 141.20,337.30 152.30,341.10 163.40,344.80 174.50,350.70 185.60,352.60 196.60,355.00 207.70,356.40 218.80,350.60" fill="none" stroke="#333" stroke-width="0.9"/>
<polygon points="130.00,329.07 131.43,331.54 128.57,331.54" fill="#111"/>
<polygon points="141.20,335.87 142.63,338.34 139.77,338.34" fill="#111"/>
<polygon points="152.30,339.67 153.73,342.14 150.87,342.14" fill="#111"/>
<polygon points="163.40,343.37 164.83,345.84 161.97,345.84" fill="#111"/>
<polygon points="174.50,349.27 175.93,351.74 173.07,351.74" fill="#111"/>
<polygon points="185.60,351.17 187.03,353.64 184.17,353.64" fill="#111"/>
<polygon points="196.60,353.57 198.03,356.04 195.17,356.04" fill="#111"/>
<polygon points="207.70,354.97 209.13,357.44 206.27,357.44" fill="#111"/>
<polygon points="218.80,349.17 220.23,351.64 217.37,351.64" fill="#111"/>
<polyline points="130.00,330.50 141.20,332.10 152.30,331.00 163.40,332.60 174.50,335.90 185.60,337.40 196.60,340.60 207.70,345.90 218.80,346.90" fill="none" stroke="#333" stroke-width="0.9"/>
<rect x="128.50" y="329.00" width="3.00" height="3.00" fill="#fff" stroke="#111" stroke-width="1.0"/>
<rect x="139.70" y="330.60" width="3.00" height="3.00" fill="#fff" stroke="#111" stroke-width="1.0"/>
<rect x="150.80" y="329.50" width="3.00" height="3.00" fill="#fff" stroke="#111" stroke-width="1.0"/>
<rect x="161.90" y="331.10" width="3.00" height="3.00" fill="#fff" stroke="#111" stroke-width="1.0"/>
<rect x="173.00" y="334.40" width="3.00" height="3.00" fill="#fff" stroke="#111" stroke-width="1.0"/>
<rect x="184.10" y="335.90" width="3.00" height="3.00" fill="#fff" stroke="#111" stroke-width="1.0"/>
<rect x="195.10" y="339.10" width="3.00" height="3.00" fill="#fff" stroke="#111" stroke-width="1.0"/>
<rect x="206.20" y="344.40" width="3.00" height="3.00" fill="#fff" stroke="#111" stroke-width="1.0"/>
<rect x="217.30" y="345.40" width="3.00" height="3.00" fill="#fff" stroke="#111" stroke-width="1.0"/>
<line x1="243.70" y1="311.30" x2="254.20" y2="311.30" stroke="#333" stroke-width="0.8"/>
<rect x="247.10" y="309.80" width="3.00" height="3.00" fill="#111"/>
<text x="255.80" y="313.40" font-size="6.3" text-anchor="start" fill="#222" stroke="#222" stroke-width="0.18" textLength="26.12" lengthAdjust="spacingAndGlyphs">hL243<tspan font-size="4.6">γ</tspan>4P</text>
<line x1="243.70" y1="320.50" x2="254.20" y2="320.50" stroke="#333" stroke-width="0.8"/>
<polygon points="248.60,318.85 250.25,321.70 246.95,321.70" fill="#111"/>
<text x="255.80" y="322.60" font-size="6.3" text-anchor="start" fill="#222" stroke="#222" stroke-width="0.18" textLength="62.45" lengthAdjust="spacingAndGlyphs"><tspan>hL243<tspan font-size="4.6">γ</tspan>4P + </tspan><tspan font-style="italic">crosslinker</tspan></text>
<line x1="243.70" y1="328.50" x2="254.20" y2="328.50" stroke="#333" stroke-width="0.8"/>
<polygon points="248.60,330.15 250.25,327.30 246.95,327.30" fill="#111"/>
<text x="255.80" y="330.60" font-size="6.3" text-anchor="start" fill="#222" stroke="#222" stroke-width="0.18" textLength="17.73" lengthAdjust="spacingAndGlyphs">mL243</text>
<line x1="243.70" y1="336.60" x2="254.20" y2="336.60" stroke="#333" stroke-width="0.8"/>
<polygon points="248.60,335.10 250.10,336.60 248.60,338.10 247.10,336.60" fill="#111"/>
<text x="255.80" y="338.70" font-size="6.3" text-anchor="start" fill="#222" stroke="#222" stroke-width="0.18" textLength="20.63" lengthAdjust="spacingAndGlyphs">hMN-14</text>
<line x1="243.70" y1="344.80" x2="254.20" y2="344.80" stroke="#333" stroke-width="0.8"/>
<circle cx="248.60" cy="344.80" r="1.50" fill="#111"/>
<text x="255.80" y="346.90" font-size="6.3" text-anchor="start" fill="#222" stroke="#222" stroke-width="0.18" textLength="13.54" lengthAdjust="spacingAndGlyphs">hA20</text>
<line x1="243.70" y1="353.50" x2="254.20" y2="353.50" stroke="#333" stroke-width="0.8"/>
<rect x="247.60" y="352.50" width="2.00" height="2.00" fill="#fff" stroke="#111" stroke-width="1.0"/>
<text x="255.80" y="355.60" font-size="6.3" text-anchor="start" fill="#222" stroke="#222" stroke-width="0.18" textLength="49.55" lengthAdjust="spacingAndGlyphs"><tspan>hA20 + </tspan><tspan font-style="italic">crosslinker</tspan></text>
<rect x="433.40" y="17.60" width="82.60" height="56.00" fill="none" stroke="#999" stroke-width="1.2"/>
<line x1="433.40" y1="17.60" x2="433.40" y2="73.60" stroke="#8a8a8a" stroke-width="1.0"/>
<line x1="433.40" y1="73.60" x2="516.00" y2="73.60" stroke="#8a8a8a" stroke-width="1.0"/>
<text x="429.60" y="75.20" font-size="5.8" text-anchor="end" fill="#222">0</text>
<text x="429.60" y="65.87" font-size="5.8" text-anchor="end" fill="#222">20</text>
<text x="429.60" y="56.53" font-size="5.8" text-anchor="end" fill="#222">40</text>
<text x="429.60" y="47.20" font-size="5.8" text-anchor="end" fill="#222">60</text>
<text x="429.60" y="37.87" font-size="5.8" text-anchor="end" fill="#222">80</text>
<text x="429.60" y="28.53" font-size="5.8" text-anchor="end" fill="#222">100</text>
<text x="429.60" y="19.20" font-size="5.8" text-anchor="end" fill="#222">120</text>
<text x="468.70" y="16.30" font-size="8.75" text-anchor="middle" font-weight="bold" fill="#111" stroke="#111" stroke-width="0.2" textLength="26.5" lengthAdjust="spacingAndGlyphs">FSCCL</text>
<text x="415.00" y="45.80" font-size="6.7" text-anchor="middle" font-weight="bold" transform="rotate(-90 415.00 45.80)" fill="#111" stroke="#111" stroke-width="0.2" textLength="33.6" lengthAdjust="spacingAndGlyphs">% Inhibition</text>
<line x1="440.25" y1="61.47" x2="440.25" y2="68.00" stroke="#333" stroke-width="0.8"/>
<line x1="438.45" y1="61.47" x2="442.05" y2="61.47" stroke="#333" stroke-width="0.8"/>
<line x1="438.45" y1="68.00" x2="442.05" y2="68.00" stroke="#333" stroke-width="0.8"/>
<line x1="446.55" y1="56.33" x2="446.55" y2="61.00" stroke="#333" stroke-width="0.8"/>
<line x1="444.45" y1="56.33" x2="448.65" y2="56.33" stroke="#333" stroke-width="0.8"/>
<line x1="444.45" y1="61.00" x2="448.65" y2="61.00" stroke="#333" stroke-width="0.8"/>
<rect x="437.10" y="68.00" width="6.30" height="5.60" fill="#fff" stroke="#222" stroke-width="0.8"/>
<rect x="443.40" y="61.00" width="6.30" height="12.60" fill="#b5b5b5" stroke="#333" stroke-width="0.8"/>
<rect x="458.20" y="36.73" width="6.30" height="36.87" fill="#fff" stroke="#222" stroke-width="0.8"/>
<rect x="464.50" y="29.73" width="6.30" height="43.87" fill="#b5b5b5" stroke="#333" stroke-width="0.8"/>
<line x1="482.45" y1="67.07" x2="482.45" y2="71.27" stroke="#333" stroke-width="0.8"/>
<line x1="480.65" y1="67.07" x2="484.25" y2="67.07" stroke="#333" stroke-width="0.8"/>
<line x1="480.65" y1="71.27" x2="484.25" y2="71.27" stroke="#333" stroke-width="0.8"/>
<line x1="488.75" y1="64.73" x2="488.75" y2="69.40" stroke="#333" stroke-width="0.8"/>
<line x1="486.65" y1="64.73" x2="490.85" y2="64.73" stroke="#333" stroke-width="0.8"/>
<line x1="486.65" y1="69.40" x2="490.85" y2="69.40" stroke="#333" stroke-width="0.8"/>
<rect x="479.30" y="71.27" width="6.30" height="2.33" fill="#fff" stroke="#222" stroke-width="0.8"/>
<rect x="485.60" y="69.40" width="6.30" height="4.20" fill="#b5b5b5" stroke="#333" stroke-width="0.8"/>
<line x1="502.75" y1="31.13" x2="502.75" y2="35.80" stroke="#333" stroke-width="0.8"/>
<line x1="500.95" y1="31.13" x2="504.55" y2="31.13" stroke="#333" stroke-width="0.8"/>
<line x1="500.95" y1="35.80" x2="504.55" y2="35.80" stroke="#333" stroke-width="0.8"/>
<line x1="509.05" y1="25.53" x2="509.05" y2="29.73" stroke="#333" stroke-width="0.8"/>
<line x1="506.95" y1="25.53" x2="511.15" y2="25.53" stroke="#333" stroke-width="0.8"/>
<line x1="506.95" y1="29.73" x2="511.15" y2="29.73" stroke="#333" stroke-width="0.8"/>
<rect x="499.60" y="35.80" width="6.30" height="37.80" fill="#fff" stroke="#222" stroke-width="0.8"/>
<rect x="505.90" y="29.73" width="6.30" height="43.87" fill="#b5b5b5" stroke="#333" stroke-width="0.8"/>
<text x="440.20" y="84.80" font-size="6.7" text-anchor="end" font-weight="bold" transform="rotate(-45 440.20 84.80)" fill="#111" stroke="#111" stroke-width="0.25" textLength="28.42" lengthAdjust="spacingAndGlyphs">Rituximab</text>
<text x="461.20" y="84.80" font-size="6.7" text-anchor="end" font-weight="bold" transform="rotate(-45 461.20 84.80)" fill="#111" stroke="#111" stroke-width="0.25" textLength="16.99" lengthAdjust="spacingAndGlyphs">hL243</text>
<text x="482.20" y="85.20" font-size="6.7" text-anchor="end" font-weight="bold" transform="rotate(-45 482.20 85.20)" fill="#111" stroke="#111" stroke-width="0.25" textLength="19.28" lengthAdjust="spacingAndGlyphs">hMN14</text>
<text x="501.80" y="84.80" font-size="6.7" text-anchor="end" font-weight="bold" transform="rotate(-45 501.80 84.80)" fill="#111" stroke="#111" stroke-width="0.25" textLength="48.85" lengthAdjust="spacingAndGlyphs">Rituximab+hL243</text>
<rect x="434.30" y="140.40" width="82.50" height="57.30" fill="none" stroke="#999" stroke-width="1.2"/>
<line x1="434.30" y1="140.40" x2="434.30" y2="197.70" stroke="#8a8a8a" stroke-width="1.0"/>
<line x1="434.30" y1="197.70" x2="516.80" y2="197.70" stroke="#8a8a8a" stroke-width="1.0"/>
<text x="430.50" y="199.30" font-size="5.8" text-anchor="end" fill="#222">0</text>
<text x="430.50" y="192.14" font-size="5.8" text-anchor="end" fill="#222">10</text>
<text x="430.50" y="184.97" font-size="5.8" text-anchor="end" fill="#222">20</text>
<text x="430.50" y="177.81" font-size="5.8" text-anchor="end" fill="#222">30</text>
<text x="430.50" y="170.65" font-size="5.8" text-anchor="end" fill="#222">40</text>
<text x="430.50" y="163.49" font-size="5.8" text-anchor="end" fill="#222">50</text>
<text x="430.50" y="156.32" font-size="5.8" text-anchor="end" fill="#222">60</text>
<text x="430.50" y="149.16" font-size="5.8" text-anchor="end" fill="#222">70</text>
<text x="430.50" y="142.00" font-size="5.8" text-anchor="end" fill="#222">80</text>
<text x="468.80" y="138.30" font-size="8.53" text-anchor="middle" font-weight="bold" fill="#111" stroke="#111" stroke-width="0.2" textLength="25.84" lengthAdjust="spacingAndGlyphs">Ramos</text>
<text x="415.00" y="168.50" font-size="6.7" text-anchor="middle" font-weight="bold" transform="rotate(-90 415.00 168.50)" fill="#111" stroke="#111" stroke-width="0.2" textLength="33.6" lengthAdjust="spacingAndGlyphs">% Inhibition</text>
<line x1="448.05" y1="154.72" x2="448.05" y2="161.89" stroke="#333" stroke-width="0.8"/>
<line x1="445.95" y1="154.72" x2="450.15" y2="154.72" stroke="#333" stroke-width="0.8"/>
<line x1="445.95" y1="161.89" x2="450.15" y2="161.89" stroke="#333" stroke-width="0.8"/>
<rect x="438.60" y="197.70" width="6.30" height="0.00" fill="#fff" stroke="#222" stroke-width="0.8"/>
<rect x="444.90" y="161.89" width="6.30" height="35.81" fill="#b5b5b5" stroke="#333" stroke-width="0.8"/>
<line x1="462.35" y1="181.94" x2="462.35" y2="190.54" stroke="#333" stroke-width="0.8"/>
<line x1="460.55" y1="181.94" x2="464.15" y2="181.94" stroke="#333" stroke-width="0.8"/>
<line x1="460.55" y1="190.54" x2="464.15" y2="190.54" stroke="#333" stroke-width="0.8"/>
<rect x="459.20" y="190.54" width="6.30" height="7.16" fill="#fff" stroke="#222" stroke-width="0.8"/>
<rect x="465.50" y="156.87" width="6.30" height="40.83" fill="#b5b5b5" stroke="#333" stroke-width="0.8"/>
<line x1="483.45" y1="192.33" x2="483.45" y2="196.63" stroke="#333" stroke-width="0.8"/>
<line x1="481.65" y1="192.33" x2="485.25" y2="192.33" stroke="#333" stroke-width="0.8"/>
<line x1="481.65" y1="196.63" x2="485.25" y2="196.63" stroke="#333" stroke-width="0.8"/>
<line x1="489.75" y1="191.25" x2="489.75" y2="196.27" stroke="#333" stroke-width="0.8"/>
<line x1="487.65" y1="191.25" x2="491.85" y2="191.25" stroke="#333" stroke-width="0.8"/>
<line x1="487.65" y1="196.27" x2="491.85" y2="196.27" stroke="#333" stroke-width="0.8"/>
<rect x="480.30" y="196.63" width="6.30" height="1.07" fill="#fff" stroke="#222" stroke-width="0.8"/>
<rect x="486.60" y="196.27" width="6.30" height="1.43" fill="#b5b5b5" stroke="#333" stroke-width="0.8"/>
<line x1="503.45" y1="181.23" x2="503.45" y2="184.81" stroke="#333" stroke-width="0.8"/>
<line x1="501.65" y1="181.23" x2="505.25" y2="181.23" stroke="#333" stroke-width="0.8"/>
<line x1="501.65" y1="184.81" x2="505.25" y2="184.81" stroke="#333" stroke-width="0.8"/>
<line x1="509.75" y1="143.26" x2="509.75" y2="148.28" stroke="#333" stroke-width="0.8"/>
<line x1="507.65" y1="143.26" x2="511.85" y2="143.26" stroke="#333" stroke-width="0.8"/>
<line x1="507.65" y1="148.28" x2="511.85" y2="148.28" stroke="#333" stroke-width="0.8"/>
<rect x="500.30" y="184.81" width="6.30" height="12.89" fill="#fff" stroke="#222" stroke-width="0.8"/>
<rect x="506.60" y="148.28" width="6.30" height="49.42" fill="#b5b5b5" stroke="#333" stroke-width="0.8"/>
<text x="442.20" y="208.40" font-size="6.7" text-anchor="end" font-weight="bold" transform="rotate(-45 442.20 208.40)" fill="#111" stroke="#111" stroke-width="0.25" textLength="28.42" lengthAdjust="spacingAndGlyphs">Rituximab</text>
<text x="463.00" y="208.20" font-size="6.7" text-anchor="end" font-weight="bold" transform="rotate(-45 463.00 208.20)" fill="#111" stroke="#111" stroke-width="0.25" textLength="16.99" lengthAdjust="spacingAndGlyphs">hL243</text>
<text x="482.00" y="208.40" font-size="6.7" text-anchor="end" font-weight="bold" transform="rotate(-45 482.00 208.40)" fill="#111" stroke="#111" stroke-width="0.25" textLength="19.28" lengthAdjust="spacingAndGlyphs">hMN14</text>
<text x="503.00" y="208.20" font-size="6.7" text-anchor="end" font-weight="bold" transform="rotate(-45 503.00 208.20)" fill="#111" stroke="#111" stroke-width="0.25" textLength="48.85" lengthAdjust="spacingAndGlyphs">Rituximab+hL243</text>
<rect x="433.70" y="265.00" width="79.70" height="58.60" fill="none" stroke="#999" stroke-width="1.2"/>
<line x1="433.70" y1="265.00" x2="433.70" y2="323.60" stroke="#8a8a8a" stroke-width="1.0"/>
<line x1="433.70" y1="323.60" x2="513.40" y2="323.60" stroke="#8a8a8a" stroke-width="1.0"/>
<text x="429.90" y="325.20" font-size="5.8" text-anchor="end" fill="#222">0</text>
<text x="429.90" y="317.88" font-size="5.8" text-anchor="end" fill="#222">10</text>
<text x="429.90" y="310.55" font-size="5.8" text-anchor="end" fill="#222">20</text>
<text x="429.90" y="303.23" font-size="5.8" text-anchor="end" fill="#222">30</text>
<text x="429.90" y="295.90" font-size="5.8" text-anchor="end" fill="#222">40</text>
<text x="429.90" y="288.58" font-size="5.8" text-anchor="end" fill="#222">50</text>
<text x="429.90" y="281.25" font-size="5.8" text-anchor="end" fill="#222">60</text>
<text x="429.90" y="273.93" font-size="5.8" text-anchor="end" fill="#222">70</text>
<text x="429.90" y="266.60" font-size="5.8" text-anchor="end" fill="#222">80</text>
<text x="474.40" y="263.80" font-size="8.53" text-anchor="middle" font-weight="bold" fill="#111" stroke="#111" stroke-width="0.2" textLength="33.6" lengthAdjust="spacingAndGlyphs">Namalwa</text>
<text x="415.00" y="294.50" font-size="6.7" text-anchor="middle" font-weight="bold" transform="rotate(-90 415.00 294.50)" fill="#111" stroke="#111" stroke-width="0.2" textLength="33.6" lengthAdjust="spacingAndGlyphs">% Inhibition</text>
<line x1="440.65" y1="309.68" x2="440.65" y2="313.35" stroke="#333" stroke-width="0.8"/>
<line x1="438.85" y1="309.68" x2="442.45" y2="309.68" stroke="#333" stroke-width="0.8"/>
<line x1="438.85" y1="313.35" x2="442.45" y2="313.35" stroke="#333" stroke-width="0.8"/>
<line x1="446.95" y1="307.49" x2="446.95" y2="313.35" stroke="#333" stroke-width="0.8"/>
<line x1="444.85" y1="307.49" x2="449.05" y2="307.49" stroke="#333" stroke-width="0.8"/>
<line x1="444.85" y1="313.35" x2="449.05" y2="313.35" stroke="#333" stroke-width="0.8"/>
<rect x="437.50" y="313.35" width="6.30" height="10.25" fill="#fff" stroke="#222" stroke-width="0.8"/>
<rect x="443.80" y="313.35" width="6.30" height="10.25" fill="#b5b5b5" stroke="#333" stroke-width="0.8"/>
<line x1="460.35" y1="300.89" x2="460.35" y2="303.09" stroke="#333" stroke-width="0.8"/>
<line x1="458.55" y1="300.89" x2="462.15" y2="300.89" stroke="#333" stroke-width="0.8"/>
<line x1="458.55" y1="303.09" x2="462.15" y2="303.09" stroke="#333" stroke-width="0.8"/>
<line x1="466.65" y1="284.05" x2="466.65" y2="286.24" stroke="#333" stroke-width="0.8"/>
<line x1="464.55" y1="284.05" x2="468.75" y2="284.05" stroke="#333" stroke-width="0.8"/>
<line x1="464.55" y1="286.24" x2="468.75" y2="286.24" stroke="#333" stroke-width="0.8"/>
<rect x="457.20" y="303.09" width="6.30" height="20.51" fill="#fff" stroke="#222" stroke-width="0.8"/>
<rect x="463.50" y="286.24" width="6.30" height="37.36" fill="#b5b5b5" stroke="#333" stroke-width="0.8"/>
<line x1="480.45" y1="313.35" x2="480.45" y2="316.28" stroke="#333" stroke-width="0.8"/>
<line x1="478.65" y1="313.35" x2="482.25" y2="313.35" stroke="#333" stroke-width="0.8"/>
<line x1="478.65" y1="316.28" x2="482.25" y2="316.28" stroke="#333" stroke-width="0.8"/>
<line x1="486.75" y1="312.61" x2="486.75" y2="316.28" stroke="#333" stroke-width="0.8"/>
<line x1="484.65" y1="312.61" x2="488.85" y2="312.61" stroke="#333" stroke-width="0.8"/>
<line x1="484.65" y1="316.28" x2="488.85" y2="316.28" stroke="#333" stroke-width="0.8"/>
<rect x="477.30" y="316.28" width="6.30" height="7.32" fill="#fff" stroke="#222" stroke-width="0.8"/>
<rect x="483.60" y="316.28" width="6.30" height="7.32" fill="#b5b5b5" stroke="#333" stroke-width="0.8"/>
<line x1="506.65" y1="280.38" x2="506.65" y2="281.85" stroke="#333" stroke-width="0.8"/>
<line x1="504.55" y1="280.38" x2="508.75" y2="280.38" stroke="#333" stroke-width="0.8"/>
<line x1="504.55" y1="281.85" x2="508.75" y2="281.85" stroke="#333" stroke-width="0.8"/>
<rect x="497.20" y="286.98" width="6.30" height="36.62" fill="#fff" stroke="#222" stroke-width="0.8"/>
<rect x="503.50" y="281.85" width="6.30" height="41.75" fill="#b5b5b5" stroke="#333" stroke-width="0.8"/>
<text x="440.40" y="334.20" font-size="6.7" text-anchor="end" font-weight="bold" transform="rotate(-45 440.40 334.20)" fill="#111" stroke="#111" stroke-width="0.25" textLength="28.42" lengthAdjust="spacingAndGlyphs">Rituximab</text>
<text x="460.50" y="334.00" font-size="6.7" text-anchor="end" font-weight="bold" transform="rotate(-45 460.50 334.00)" fill="#111" stroke="#111" stroke-width="0.25" textLength="16.99" lengthAdjust="spacingAndGlyphs">hL243</text>
<text x="480.20" y="334.60" font-size="6.7" text-anchor="end" font-weight="bold" transform="rotate(-45 480.20 334.60)" fill="#111" stroke="#111" stroke-width="0.25" textLength="21.23" lengthAdjust="spacingAndGlyphs">hMN-14</text>
<text x="500.40" y="333.60" font-size="6.7" text-anchor="end" font-weight="bold" transform="rotate(-45 500.40 333.60)" fill="#111" stroke="#111" stroke-width="0.25" textLength="48.85" lengthAdjust="spacingAndGlyphs">hL243+Rituximab</text>
<rect x="486.6" y="357.3" width="3.6" height="3.6" fill="#fff" stroke="#333" stroke-width="0.8"/>
<rect x="486.6" y="364.7" width="3.6" height="3.6" fill="#b5b5b5" stroke="#333" stroke-width="0.8"/>
<text x="492.20" y="360.90" font-size="5.8" text-anchor="start" fill="#222">no 2nd Ab</text>
<text x="492.20" y="368.00" font-size="5.8" text-anchor="start" fill="#222">GAH IgG</text>
</svg>
</body></html>
